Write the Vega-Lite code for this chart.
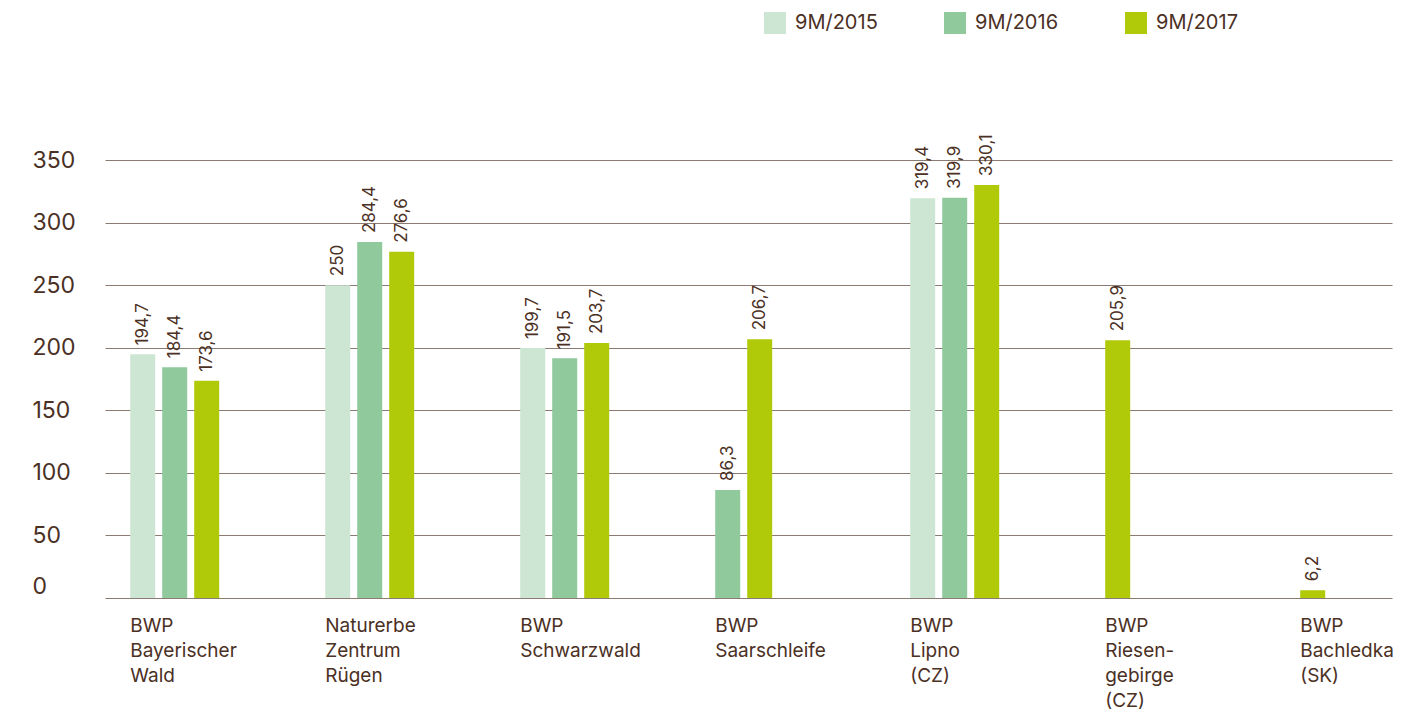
{
  "$schema": "https://vega.github.io/schema/vega-lite/v6.json",
  "autosize": {"type": "none"},
  "padding": {"left": 105, "top": 160, "right": 20, "bottom": 117},
  "width": 1287,
  "height": 438,
  "background": "white",
  "config": {
    "view": {"stroke": null},
    "font": "Inter",
    "locale": {"number": {"decimal": ",", "thousands": ".", "grouping": [3], "currency": ["", " €"]}}
  },
  "data": {
    "values": [
      {"park": "BWP\nBayerischer\nWald", "period": "9M/2015", "value": 194.7},
      {"park": "BWP\nBayerischer\nWald", "period": "9M/2016", "value": 184.4},
      {"park": "BWP\nBayerischer\nWald", "period": "9M/2017", "value": 173.6},
      {"park": "Naturerbe\nZentrum\nRügen", "period": "9M/2015", "value": 250},
      {"park": "Naturerbe\nZentrum\nRügen", "period": "9M/2016", "value": 284.4},
      {"park": "Naturerbe\nZentrum\nRügen", "period": "9M/2017", "value": 276.6},
      {"park": "BWP\nSchwarzwald", "period": "9M/2015", "value": 199.7},
      {"park": "BWP\nSchwarzwald", "period": "9M/2016", "value": 191.5},
      {"park": "BWP\nSchwarzwald", "period": "9M/2017", "value": 203.7},
      {"park": "BWP\nSaarschleife", "period": "9M/2016", "value": 86.3},
      {"park": "BWP\nSaarschleife", "period": "9M/2017", "value": 206.7},
      {"park": "BWP\nLipno\n(CZ)", "period": "9M/2015", "value": 319.4},
      {"park": "BWP\nLipno\n(CZ)", "period": "9M/2016", "value": 319.9},
      {"park": "BWP\nLipno\n(CZ)", "period": "9M/2017", "value": 330.1},
      {"park": "BWP\nRiesen-\ngebirge\n(CZ)", "period": "9M/2017", "value": 205.9},
      {"park": "BWP\nBachledka\n(SK)", "period": "9M/2017", "value": 6.2}
    ]
  },
  "transform": [
    {
      "window": [{"op": "row_number", "as": "slot"}],
      "groupby": ["park"],
      "sort": [{"field": "period", "order": "ascending"}]
    }
  ],
  "encoding": {
    "x": {
      "field": "park",
      "type": "nominal",
      "scale": {
        "domain": [
          "BWP\nBayerischer\nWald",
          "Naturerbe\nZentrum\nRügen",
          "BWP\nSchwarzwald",
          "BWP\nSaarschleife",
          "BWP\nLipno\n(CZ)",
          "BWP\nRiesen-\ngebirge\n(CZ)",
          "BWP\nBachledka\n(SK)"
        ],
        "paddingInner": 0.5436,
        "paddingOuter": 0.0718,
        "align": 0.9
      },
      "axis": {
        "title": null,
        "domain": false,
        "ticks": false,
        "labelAngle": 0,
        "labelAlign": "left",
        "labelBaseline": "top",
        "labelOffset": -44.5,
        "labelPadding": 18,
        "labelFontSize": 19,
        "labelLineHeight": 25,
        "labelColor": "#4b3024",
        "labelExpr": "split(datum.value, '\\n')"
      }
    },
    "xOffset": {
      "field": "slot",
      "type": "nominal",
      "scale": {"domain": [1, 2, 3], "paddingInner": 0.219, "paddingOuter": 0}
    },
    "y": {
      "field": "value",
      "type": "quantitative",
      "scale": {"domain": [0, 350], "nice": false},
      "axis": {
        "title": null,
        "domain": false,
        "ticks": false,
        "values": [0, 50, 100, 150, 200, 250, 300, 350],
        "gridColor": "#8a7a72",
        "gridWidth": 1.2,
        "labelAlign": "left",
        "labelPadding": 73,
        "labelFontSize": 23,
        "labelColor": "#4b3024",
        "labelBaseline": {"condition": {"test": "datum.value === 0", "value": "bottom"}, "value": "middle"}
      }
    }
  },
  "layer": [
    {
      "mark": {"type": "bar"},
      "encoding": {
        "color": {
          "field": "period",
          "type": "nominal",
          "scale": {
            "domain": ["9M/2015", "9M/2016", "9M/2017"],
            "range": ["#cde6d3", "#8fc99c", "#b0ca0a"]
          },
          "legend": {
            "title": null,
            "orient": "none",
            "legendX": 659,
            "legendY": -148,
            "direction": "horizontal",
            "padding": 0,
            "symbolType": "square",
            "symbolSize": 484,
            "symbolStrokeWidth": 0,
            "symbolOpacity": 1,
            "labelFontSize": 20,
            "labelColor": "#4b3024",
            "labelOffset": 9,
            "columnPadding": 66
          }
        }
      }
    },
    {
      "mark": {
        "type": "text",
        "angle": 270,
        "align": "left",
        "baseline": "middle",
        "dx": 9,
        "fontSize": 17,
        "color": "#4b3024"
      },
      "encoding": {
        "text": {"field": "value", "type": "quantitative", "format": ".1~f"}
      }
    }
  ]
}
